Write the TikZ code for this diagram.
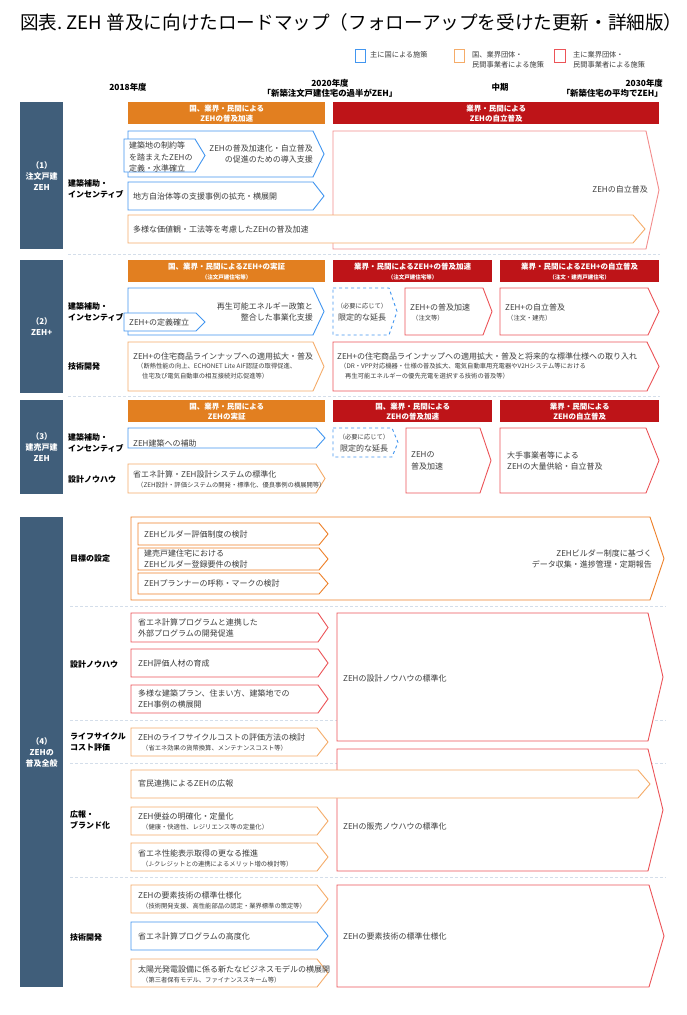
\documentclass[tikz,border=0pt]{standalone}
\usepackage{fontspec}
\setmainfont{Noto Sans CJK JP}
\usepackage{tikz}

\definecolor{cbar}{RGB}{64,94,122}
\definecolor{chdrO}{RGB}{226,127,32}
\definecolor{chdrR}{RGB}{190,20,24}
\definecolor{cblue}{RGB}{66,150,240}
\definecolor{corg}{RGB}{245,172,105}
\definecolor{corgD}{RGB}{238,128,40}
\definecolor{cred}{RGB}{236,84,88}
\definecolor{cpink}{RGB}{243,140,140}
\definecolor{ctxt}{RGB}{60,60,60}
\definecolor{csep}{RGB}{212,222,234}

% arrow-shaped box: style, left, top, right (tip), bottom, tip length
\newcommand{\pent}[6]{%
  \draw[#1] (#2,#3) -- (#4-#6,#3) -- (#4,{(#3+#5)/2}) -- (#4-#6,#5) -- (#2,#5) -- cycle;}

\begin{document}
\begin{tikzpicture}[
  x=1pt, y=-1pt,
  bar/.style={fill=cbar, text=white, font=\bfseries\fontsize{8}{11}\selectfont,
              align=center, anchor=north west, inner sep=0, minimum width=43pt},
  hdr/.style={text=white, font=\bfseries\fontsize{7.5}{10}\selectfont,
              align=center, anchor=north west, inner sep=0, minimum height=22pt},
  cat/.style={font=\bfseries\fontsize{8}{10.5}\selectfont, anchor=west, align=left, inner sep=0},
  txt/.style={text=ctxt, font=\fontsize{8}{11.5}\selectfont, anchor=west, align=left, inner sep=0},
  note/.style={text=ctxt, font=\fontsize{6.3}{10}\selectfont, anchor=west, align=left, inner sep=0},
  yr/.style={font=\bfseries\fontsize{8.4}{10}\selectfont, inner sep=0},
  leg/.style={text=ctxt, font=\fontsize{7.2}{10.5}\selectfont, anchor=west, align=left, inner sep=0},
  blu/.style={draw=cblue, fill=white, line width=0.9pt},
  org/.style={draw=corg, fill=white, line width=0.9pt},
  orgD/.style={draw=corgD, fill=white, line width=0.9pt},
  red/.style={draw=cred, fill=white, line width=0.9pt},
  pnk/.style={draw=cpink, fill=white, line width=0.9pt},
  sep/.style={draw=csep, line width=0.8pt, dash pattern=on 3pt off 2pt}
]
  \fill[white] (0,0) rectangle (687,1015);
  \useasboundingbox (0,0) rectangle (687,1015);

  % title and legend
  \node[anchor=west, inner sep=0, font=\fontsize{18.6}{22}\selectfont] (title) at (20,22)
    {図表.\ ZEH 普及に向けたロードマップ（フォローアップを受けた更新・詳細版）};
  \draw[blu] (355,49) rectangle (365,62);
  \node[leg] (lgb) at (370,55) {主に国による施策};
  \draw[org] (454,49) rectangle (464,62);
  \node[leg] (lgo) at (472,60) {国、業界団体・\\民間事業者による施策};
  \draw[red] (554,49) rectangle (565,62);
  \node[leg] (lgr) at (573,60) {主に業界団体・\\民間事業者による施策};

  % timeline
  \node[yr] (y18) at (128,87) {2018年度};
  \node[yr, align=center] (y20) at (330,88) {2020年度\\「新築注文戸建住宅の過半がZEH」};
  \node[yr] (ymid) at (500,87) {中期};
  \node[yr, align=right, anchor=east] (y30) at (663,88) {2030年度\\「新築住宅の平均でZEH」};

  % separators
  \draw[sep] (68,254) -- (660,254);
  \draw[sep] (68,396) -- (660,396);
  \draw[sep] (70,606) -- (666,606);
  \draw[sep] (70,720) -- (666,720);
  \draw[sep] (70,763) -- (666,763);
  \draw[sep] (70,877) -- (666,877);

  % (1) 注文戸建ZEH
  \node[bar, minimum height=147pt] (s1) at (20,102) {（1）\\注文戸建\\ZEH};
  \node[cat] (c1) at (68,189) {建築補助・\\インセンティブ};
  \node[hdr, fill=chdrO, minimum width=197pt] (h1a) at (128,102) {国、業界・民間による\\ZEHの普及加速};
  \node[hdr, fill=chdrR, minimum width=326pt] (h1b) at (333,102) {業界・民間による\\ZEHの自立普及};
  \pent{pnk}{333}{131}{659}{249}{13}
  \pent{blu}{128}{131}{324}{177}{11}
  \pent{blu}{124}{139}{205}{172}{10}
  \pent{blu}{128}{182}{324}{210}{11}
  \pent{org}{128}{215}{645}{243}{12}
  \node[txt] (t1a) at (129,157) {建築地の制約等\\を踏まえたZEHの\\定義・水準確立};
  \node[txt, anchor=east, align=right] (t1b) at (313,154) {ZEHの普及加速化・自立普及\\の促進のための導入支援};
  \node[txt] (t1c) at (133,196) {地方自治体等の支援事例の拡充・横展開};
  \node[txt] (t1d) at (133,229) {多様な価値観・工法等を考慮したZEHの普及加速};
  \node[txt, anchor=east] (t1e) at (648,189) {ZEHの自立普及};

  % (2) ZEH+
  \node[bar, minimum height=133pt] (s2) at (20,260) {（2）\\ZEH+};
  \node[cat] (c2a) at (68,312) {建築補助・\\インセンティブ};
  \node[cat] (c2b) at (68,366) {技術開発};
  \node[hdr, fill=chdrO, minimum width=197pt] (h2a) at (128,260)
    {国、業界・民間によるZEH+の実証\\{\fontsize{5.5}{7}\selectfont（注文戸建住宅等）}};
  \node[hdr, fill=chdrR, minimum width=159pt] (h2b) at (333,260)
    {業界・民間によるZEH+の普及加速\\{\fontsize{5.5}{7}\selectfont（注文戸建住宅等）}};
  \node[hdr, fill=chdrR, minimum width=159pt] (h2c) at (500,260)
    {業界・民間によるZEH+の自立普及\\{\fontsize{5.5}{7}\selectfont（注文・建売戸建住宅）}};
  \pent{blu}{128}{288}{324}{335}{11}
  \pent{blu}{124}{313}{205}{331}{9}
  \pent{blu,dashed}{333}{288}{397}{335}{8}
  \pent{red}{405}{288}{492}{335}{9}
  \pent{red}{500}{288}{659}{335}{11}
  \pent{org}{128}{342}{324}{391}{11}
  \pent{red}{333}{342}{659}{391}{12}
  \node[txt, anchor=east, align=right] (t2a) at (313,312) {再生可能エネルギー政策と\\整合した事業化支援};
  \node[txt] (t2b) at (129,322) {ZEH+の定義確立};
  \node[txt, anchor=center, align=center] (t2c) at (362,312)
    {{\fontsize{6.3}{8}\selectfont（必要に応じて）}\\限定的な延長};
  \node[txt] (t2d) at (410,307) {ZEH+の普及加速};
  \node[note] (n2d) at (412,318) {（注文等）};
  \node[txt] (t2e) at (505,307) {ZEH+の自立普及};
  \node[note] (n2e) at (507,318) {（注文・建売）};
  \node[txt] (t2f) at (133,356) {ZEH+の住宅商品ラインナップへの適用拡大・普及};
  \node[note] (n2f) at (137,371)
    {（断熱性能の向上、ECHONET Lite AIF認証の取得促進、\\\hspace*{5pt}住宅及び電気自動車の相互接続対応促進等）};
  \node[txt] (t2g) at (337,356) {ZEH+の住宅商品ラインナップへの適用拡大・普及と将来的な標準仕様への取り入れ};
  \node[note] (n2g) at (340,371)
    {（DR・VPP対応機器・仕様の普及拡大、電気自動車用充電器やV2Hシステム等における\\\hspace*{5pt}再生可能エネルギーの優先充電を選択する技術の普及等）};

  % (3) 建売戸建ZEH
  \node[bar, minimum height=94pt] (s3) at (20,400) {（3）\\建売戸建\\ZEH};
  \node[cat] (c3a) at (68,443) {建築補助・\\インセンティブ};
  \node[cat] (c3b) at (68,479) {設計ノウハウ};
  \node[hdr, fill=chdrO, minimum width=197pt] (h3a) at (128,400) {国、業界・民間による\\ZEHの実証};
  \node[hdr, fill=chdrR, minimum width=159pt] (h3b) at (333,400) {国、業界・民間による\\ZEHの普及加速};
  \node[hdr, fill=chdrR, minimum width=159pt] (h3c) at (500,400) {業界・民間による\\ZEHの自立普及};
  \pent{blu}{128}{428}{325}{448}{9}
  \pent{org}{128}{464}{325}{493}{9}
  \pent{blu,dashed}{333}{428}{398}{457}{6}
  \pent{red}{406}{428}{491}{493}{11}
  \pent{red}{500}{428}{659}{493}{13}
  \node[txt] (t3a) at (133,443) {ZEH建築への補助};
  \node[txt] (t3b) at (133,474) {省エネ計算・ZEH設計システムの標準化};
  \node[note] (n3b) at (137,485) {（ZEH設計・評価システムの開発・標準化、優良事例の横展開等）};
  \node[txt, anchor=center, align=center] (t3c) at (364,443)
    {{\fontsize{6.3}{8}\selectfont（必要に応じて）}\\限定的な延長};
  \node[txt] (t3d) at (411,461) {ZEHの\\普及加速};
  \node[txt] (t3e) at (507,461) {大手事業者等による\\ZEHの大量供給・自立普及};

  % (4) ZEHの普及全般
  \node[bar, minimum height=470pt] (s4) at (20,517) {（4）\\ZEHの\\普及全般};
  \node[cat] (c4a) at (70,558) {目標の設定};
  \node[cat] (c4b) at (70,664) {設計ノウハウ};
  \node[cat] (c4c) at (70,742) {ライフサイクル\\コスト評価};
  \node[cat] (c4d) at (70,820) {広報・\\ブランド化};
  \node[cat] (c4e) at (70,937) {技術開発};

  \pent{orgD}{131}{517}{664}{600}{14}
  \pent{orgD}{138}{523}{328}{545}{9}
  \pent{orgD}{138}{548}{328}{570}{9}
  \pent{orgD}{138}{573}{328}{594}{9}
  \node[txt] (t4a) at (144,534) {ZEHビルダー評価制度の検討};
  \node[txt] (t4b) at (144,559) {建売戸建住宅における\\ZEHビルダー登録要件の検討};
  \node[txt] (t4c) at (144,583) {ZEHプランナーの呼称・マークの検討};
  \node[txt, anchor=east, align=right] (t4d) at (652,559) {ZEHビルダー制度に基づく\\データ収集・進捗管理・定期報告};

  \pent{red}{337}{613}{663}{741}{15}
  \pent{red}{131}{613}{328}{642}{10}
  \pent{red}{131}{649}{328}{677}{10}
  \pent{red}{131}{685}{328}{713}{10}
  \node[txt] (t4e) at (138,628) {省エネ計算プログラムと連携した\\外部プログラムの開発促進};
  \node[txt] (t4f) at (138,663) {ZEH評価人材の育成};
  \node[txt] (t4g) at (138,699) {多様な建築プラン、住まい方、建築地での\\ZEH事例の横展開};
  \node[txt] (t4h) at (343,678) {ZEHの設計ノウハウの標準化};

  \pent{org}{131}{728}{328}{756}{11}
  \node[txt] (t4i) at (138,737) {ZEHのライフサイクルコストの評価方法の検討};
  \node[note] (n4i) at (142,748) {（省エネ効果の貨幣換算、メンテナンスコスト等）};

  \pent{red}{337}{749}{663}{871}{15}
  \pent{org}{131}{770}{650}{798}{12}
  \pent{org}{131}{807}{328}{835}{11}
  \pent{org}{131}{843}{328}{871}{11}
  \node[txt] (t4j) at (138,783) {官民連携によるZEHの広報};
  \node[txt] (t4k) at (138,816) {ZEH便益の明確化・定量化};
  \node[note] (n4k) at (142,827) {（健康・快適性、レジリエンス等の定量化）};
  \node[txt] (t4l) at (138,853) {省エネ性能表示取得の更なる推進};
  \node[note] (n4l) at (142,864) {（J-クレジットとの連携によるメリット増の検討等）};
  \node[txt] (t4m) at (343,826) {ZEHの販売ノウハウの標準化};

  \pent{red}{337}{885}{664}{987}{15}
  \pent{org}{131}{885}{328}{913}{11}
  \pent{blu}{131}{922}{328}{950}{11}
  \pent{org}{131}{959}{328}{987}{11}
  \node[txt] (t4n) at (138,895) {ZEHの要素技術の標準仕様化};
  \node[note] (n4n) at (142,906) {（技術開発支援、高性能部品の認定・業界標準の策定等）};
  \node[txt] (t4o) at (138,936) {省エネ計算プログラムの高度化};
  \node[txt] (t4p) at (138,969) {太陽光発電設備に係る新たなビジネスモデルの横展開};
  \node[note] (n4p) at (142,980) {（第三者保有モデル、ファイナンススキーム等）};
  \node[txt] (t4q) at (343,936) {ZEHの要素技術の標準仕様化};
\end{tikzpicture}
\end{document}
